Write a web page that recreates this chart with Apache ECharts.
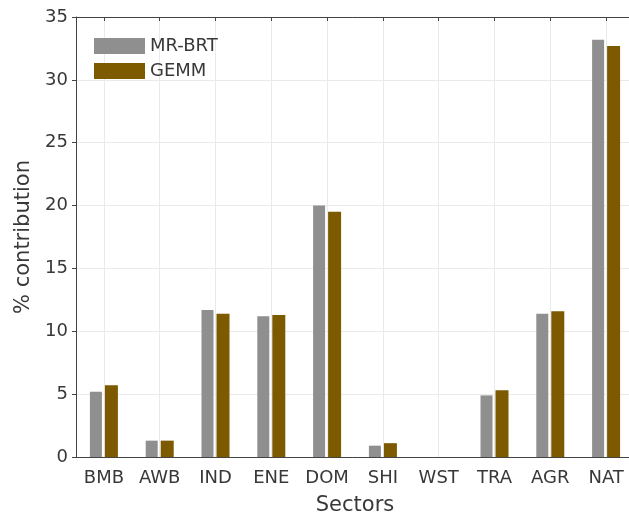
<!DOCTYPE html>
<html>
<head>
<meta charset="utf-8">
<script src="https://cdn.jsdelivr.net/npm/echarts@6/dist/echarts.min.js"></script>
<style>
  html, body { margin: 0; padding: 0; background: #fff; }
  #sector-chart { width: 629px; height: 518px; }
</style>
</head>
<body>
<div id="sector-chart"></div>
<script>
// sectors and % contribution per model
var sectors = ['BMB', 'AWB', 'IND', 'ENE', 'DOM', 'SHI', 'WST', 'TRA', 'AGR', 'NAT'];
var mrBrt = [5.2, 1.3, 11.7, 11.2, 20.0, 0.9, 0, 4.9, 11.4, 33.2];
var gemm = [5.7, 1.3, 11.4, 11.3, 19.5, 1.1, 0, 5.3, 11.6, 32.7];
var yTicks = [0, 35, 5]; // min, max, step

function sectorsBarChart() {
    var chart = echarts.init(document.getElementById('sector-chart'));
    var font = 'DejaVu Sans';

    // helper axis in half-band steps so gridlines land on the bar group centres (matlab style)
    var halfSteps = [];
    for (var i = 0; i <= sectors.length * 2; i++) halfSteps.push('');
    var atCentre = function (idx) { return idx % 2 === 1; };

    var option = {
        animation: false,
        textStyle: { fontFamily: font },
        legend: {
            orient: 'vertical',
            left: 89,
            top: 32,
            icon: 'rect',
            itemWidth: 51,
            itemHeight: 16,
            itemGap: 7,
            textStyle: { fontSize: 18, color: '#383838', fontFamily: font },
            data: ['MR-BRT', 'GEMM']
        },
        grid: { left: 76, right: -5, top: 17, bottom: 61, outerBoundsMode: 'none' },
        xAxis: [
            {
                type: 'category',
                data: sectors,
                name: 'Sectors',
                nameLocation: 'middle',
                nameGap: 38,
                nameTextStyle: { fontSize: 21, color: '#383838', fontFamily: font },
                axisLine: { lineStyle: { color: '#444' } },
                axisTick: { show: false },
                axisLabel: { fontSize: 18, color: '#383838', margin: 12, interval: 0, fontFamily: font },
                splitLine: { show: false }
            },
            {
                type: 'category',
                data: halfSteps,
                boundaryGap: false,
                position: 'top',
                axisLine: { show: true, lineStyle: { color: '#444' } },
                axisTick: { show: true, inside: true, length: 4, interval: atCentre, lineStyle: { color: '#444' } },
                axisLabel: { show: false },
                splitLine: { show: true, interval: atCentre, lineStyle: { color: '#eaeaea' } }
            }
        ],
        yAxis: {
            type: 'value',
            min: yTicks[0],
            max: yTicks[1],
            interval: yTicks[2],
            name: '% contribution',
            nameLocation: 'middle',
            nameGap: 38,
            nameTextStyle: { fontSize: 21, color: '#383838', fontFamily: font },
            axisLine: { show: true, onZero: false, lineStyle: { color: '#444' } },
            axisTick: { show: true, length: 4, lineStyle: { color: '#444' } },
            axisLabel: { fontSize: 18, color: '#383838', margin: 8, fontFamily: font },
            splitLine: { show: true, lineStyle: { color: '#eaeaea' } }
        },
        series: [
            {
                name: 'MR-BRT',
                type: 'bar',
                data: mrBrt,
                barWidth: 12,
                barGap: '25%',
                itemStyle: { color: '#8e8f8e' }
            },
            {
                name: 'GEMM',
                type: 'bar',
                data: gemm,
                barWidth: 13,
                itemStyle: { color: '#7d5a00' }
            }
        ]
    };
    option && chart.setOption(option);
}

sectorsBarChart();
</script>
</body>
</html>
